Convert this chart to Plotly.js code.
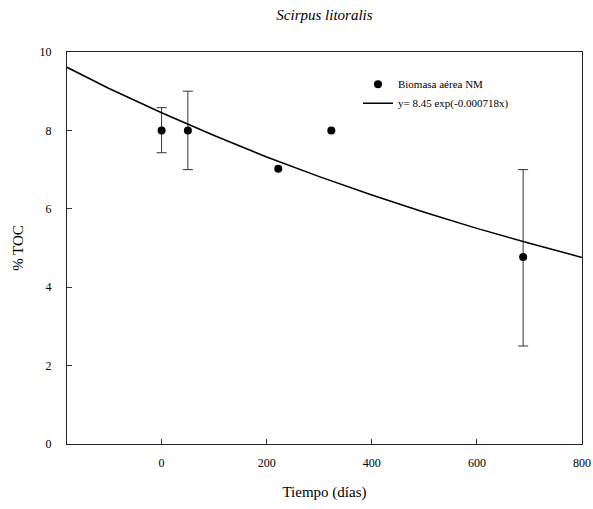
<!DOCTYPE html>
<html>
<head>
<meta charset="utf-8">
<script src="https://cdn.plot.ly/plotly-3.0.1.min.js"></script>
<style>html,body{margin:0;padding:0;background:#fff;}#chart{width:593px;height:509px;}</style>
</head>
<body>
<div id="chart"></div>
<script>
const days = [0, 50, 222, 323, 688];
const toc = [8.0, 8.0, 7.02, 8.0, 4.77];
const errUp = [0.58, 1.0, null, null, 2.23];
const errDown = [0.57, 1.0, null, null, 2.27];

// Fitted curve
const fitDays = [-180, -100, 0, 100, 200, 300, 400, 500, 600, 700, 800];
const fitToc = [9.61, 9.07, 8.45, 7.87, 7.32, 6.82, 6.35, 5.91, 5.50, 5.12, 4.76];

const xTicks = [0, 200, 400, 600, 800];
const yTicks = [0, 2, 4, 6, 8, 10];

const seriesName = "Biomasa aérea NM";
const fitName = "y= 8.45 exp(-0.000718x)";
const chartTitle = "<i>Scirpus litoralis</i>";
const xTitle = "Tiempo (días)";
const yTitle = "% TOC";

const font = "Liberation Serif";

const withErr = days.map((d, i) => i).filter(i => errUp[i] !== null);
const noErr = days.map((d, i) => i).filter(i => errUp[i] === null);

const traces = [
  {
    x: withErr.map(i => days[i]), y: withErr.map(i => toc[i]),
    type: "scatter", mode: "markers", name: seriesName,
    marker: {color: "#000", size: 8},
    error_y: {type: "data", symmetric: false,
              array: withErr.map(i => errUp[i]), arrayminus: withErr.map(i => errDown[i]),
              color: "#333", thickness: 1, width: 5, visible: true}
  },
  {
    x: noErr.map(i => days[i]), y: noErr.map(i => toc[i]),
    type: "scatter", mode: "markers", name: seriesName, showlegend: false,
    marker: {color: "#000", size: 8}
  },
  {
    x: fitDays, y: fitToc, type: "scatter", mode: "lines", name: fitName,
    line: {color: "#000", width: 1.5}
  }
];

const layout = {
  width: 593, height: 509,
  margin: {l: 67, r: 11, t: 52, b: 65},
  paper_bgcolor: "#fff", plot_bgcolor: "#fff",
  font: {family: font, color: "#000", size: 12},
  title: {text: chartTitle, font: {family: font, size: 15, color: "#000"},
          x: 0.5, xref: "paper", y: 0.972, yanchor: "middle"},
  showlegend: true,
  legend: {x: 0.565, y: 0.955, xanchor: "left", yanchor: "top",
           bgcolor: "rgba(0,0,0,0)", borderwidth: 0, tracegroupgap: 0,
           font: {family: font, size: 11, color: "#000"}},
  xaxis: {
    range: [-180, 800], tickvals: xTicks, ticktext: xTicks.map(String),
    ticks: "inside", ticklen: 5, tickcolor: "#333", tickwidth: 1,
    showline: true, linecolor: "#222", linewidth: 1, mirror: true,
    showgrid: false, zeroline: false, ticklabelstandoff: 8,
    tickfont: {family: font, size: 12, color: "#000"},
    title: {text: xTitle, font: {family: font, size: 15, color: "#000"}, standoff: 17}
  },
  yaxis: {
    range: [0, 10], tickvals: yTicks, ticktext: yTicks.map(String),
    ticks: "inside", ticklen: 5, tickcolor: "#333", tickwidth: 1,
    showline: true, linecolor: "#222", linewidth: 1, mirror: true,
    showgrid: false, zeroline: false, ticklabelstandoff: 12,
    tickfont: {family: font, size: 12, color: "#000"},
    title: {text: yTitle, font: {family: font, size: 15, color: "#000"}, standoff: 12}
  }
};

Plotly.newPlot("chart", traces, layout, {staticPlot: true, displayModeBar: false});
</script>
</body>
</html>
